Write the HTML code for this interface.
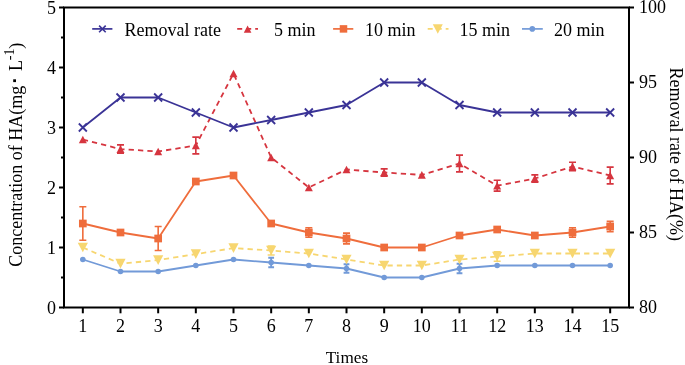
<!DOCTYPE html>
<html><head><meta charset="utf-8"><style>
html,body{margin:0;padding:0;background:#fff;}
svg{display:block;will-change:transform;}
</style></head><body>
<svg width="685" height="365" viewBox="0 0 685 365">
<rect width="685" height="365" fill="#fff"/>
<polyline points="82.83,259.50 120.50,271.50 158.17,271.50 195.83,265.50 233.50,259.50 271.17,262.50 308.83,265.50 346.50,268.50 384.17,277.50 421.83,277.50 459.50,268.50 497.17,265.50 534.83,265.50 572.50,265.50 610.17,265.50" fill="none" stroke="#729ad8" stroke-width="1.8" stroke-linejoin="round"/>
<path d="M271.17,257.70V267.30M268.27,257.70H274.07M268.27,267.30H274.07" stroke="#729ad8" stroke-width="1.9" fill="none"/>
<path d="M346.50,264.30V272.70M343.60,264.30H349.40M343.60,272.70H349.40" stroke="#729ad8" stroke-width="1.9" fill="none"/>
<path d="M459.50,263.70V273.30M456.60,263.70H462.40M456.60,273.30H462.40" stroke="#729ad8" stroke-width="1.9" fill="none"/>
<circle cx="82.83" cy="259.50" r="2.8" fill="#729ad8"/>
<circle cx="120.50" cy="271.50" r="2.8" fill="#729ad8"/>
<circle cx="158.17" cy="271.50" r="2.8" fill="#729ad8"/>
<circle cx="195.83" cy="265.50" r="2.8" fill="#729ad8"/>
<circle cx="233.50" cy="259.50" r="2.8" fill="#729ad8"/>
<circle cx="271.17" cy="262.50" r="2.8" fill="#729ad8"/>
<circle cx="308.83" cy="265.50" r="2.8" fill="#729ad8"/>
<circle cx="346.50" cy="268.50" r="2.8" fill="#729ad8"/>
<circle cx="384.17" cy="277.50" r="2.8" fill="#729ad8"/>
<circle cx="421.83" cy="277.50" r="2.8" fill="#729ad8"/>
<circle cx="459.50" cy="268.50" r="2.8" fill="#729ad8"/>
<circle cx="497.17" cy="265.50" r="2.8" fill="#729ad8"/>
<circle cx="534.83" cy="265.50" r="2.8" fill="#729ad8"/>
<circle cx="572.50" cy="265.50" r="2.8" fill="#729ad8"/>
<circle cx="610.17" cy="265.50" r="2.8" fill="#729ad8"/>
<polyline points="82.83,247.50 120.50,263.70 158.17,260.10 195.83,254.10 233.50,248.10 271.17,250.50 308.83,253.50 346.50,259.50 384.17,265.50 421.83,265.50 459.50,259.50 497.17,256.50 534.83,253.50 572.50,253.50 610.17,253.50" fill="none" stroke="#f7d670" stroke-width="1.8" stroke-dasharray="5.3 4.1" stroke-linejoin="round"/>
<path d="M271.17,246.00V255.00M267.67,246.00H274.67M267.67,255.00H274.67" stroke="#f7d670" stroke-width="1.6" fill="none"/>
<path d="M497.17,251.70V261.30M493.67,251.70H500.67M493.67,261.30H500.67" stroke="#f7d670" stroke-width="1.6" fill="none"/>
<path d="M82.83,252.34L87.93,242.66L77.73,242.66Z" fill="#f7d670"/>
<path d="M120.50,268.55L125.60,258.85L115.40,258.85Z" fill="#f7d670"/>
<path d="M158.17,264.95L163.27,255.26L153.07,255.26Z" fill="#f7d670"/>
<path d="M195.83,258.94L200.93,249.25L190.73,249.25Z" fill="#f7d670"/>
<path d="M233.50,252.94L238.60,243.25L228.40,243.25Z" fill="#f7d670"/>
<path d="M271.17,255.34L276.27,245.66L266.07,245.66Z" fill="#f7d670"/>
<path d="M308.83,258.35L313.93,248.66L303.73,248.66Z" fill="#f7d670"/>
<path d="M346.50,264.35L351.60,254.66L341.40,254.66Z" fill="#f7d670"/>
<path d="M384.17,270.35L389.27,260.65L379.07,260.65Z" fill="#f7d670"/>
<path d="M421.83,270.35L426.93,260.65L416.73,260.65Z" fill="#f7d670"/>
<path d="M459.50,264.35L464.60,254.66L454.40,254.66Z" fill="#f7d670"/>
<path d="M497.17,261.35L502.27,251.66L492.07,251.66Z" fill="#f7d670"/>
<path d="M534.83,258.35L539.93,248.66L529.73,248.66Z" fill="#f7d670"/>
<path d="M572.50,258.35L577.60,248.66L567.40,248.66Z" fill="#f7d670"/>
<path d="M610.17,258.35L615.27,248.66L605.07,248.66Z" fill="#f7d670"/>
<polyline points="82.83,223.50 120.50,232.50 158.17,238.50 195.83,181.50 233.50,175.50 271.17,223.50 308.83,232.50 346.50,238.50 384.17,247.50 421.83,247.50 459.50,235.50 497.17,229.50 534.83,235.50 572.50,232.50 610.17,226.50" fill="none" stroke="#ef6d3c" stroke-width="1.8" stroke-linejoin="round"/>
<path d="M82.83,206.70V240.30M79.33,206.70H86.33M79.33,240.30H86.33" stroke="#ef6d3c" stroke-width="1.6" fill="none"/>
<path d="M158.17,226.50V250.50M154.67,226.50H161.67M154.67,250.50H161.67" stroke="#ef6d3c" stroke-width="1.6" fill="none"/>
<path d="M308.83,227.70V237.30M305.33,227.70H312.33M305.33,237.30H312.33" stroke="#ef6d3c" stroke-width="1.6" fill="none"/>
<path d="M346.50,233.10V243.90M343.00,233.10H350.00M343.00,243.90H350.00" stroke="#ef6d3c" stroke-width="1.6" fill="none"/>
<path d="M572.50,227.70V237.30M569.00,227.70H576.00M569.00,237.30H576.00" stroke="#ef6d3c" stroke-width="1.6" fill="none"/>
<path d="M610.17,221.40V231.60M606.67,221.40H613.67M606.67,231.60H613.67" stroke="#ef6d3c" stroke-width="1.6" fill="none"/>
<rect x="78.98" y="219.65" width="7.7" height="7.7" fill="#ef6d3c"/>
<rect x="116.65" y="228.65" width="7.7" height="7.7" fill="#ef6d3c"/>
<rect x="154.32" y="234.65" width="7.7" height="7.7" fill="#ef6d3c"/>
<rect x="191.98" y="177.65" width="7.7" height="7.7" fill="#ef6d3c"/>
<rect x="229.65" y="171.65" width="7.7" height="7.7" fill="#ef6d3c"/>
<rect x="267.32" y="219.65" width="7.7" height="7.7" fill="#ef6d3c"/>
<rect x="304.98" y="228.65" width="7.7" height="7.7" fill="#ef6d3c"/>
<rect x="342.65" y="234.65" width="7.7" height="7.7" fill="#ef6d3c"/>
<rect x="380.32" y="243.65" width="7.7" height="7.7" fill="#ef6d3c"/>
<rect x="417.98" y="243.65" width="7.7" height="7.7" fill="#ef6d3c"/>
<rect x="455.65" y="231.65" width="7.7" height="7.7" fill="#ef6d3c"/>
<rect x="493.32" y="225.65" width="7.7" height="7.7" fill="#ef6d3c"/>
<rect x="530.98" y="231.65" width="7.7" height="7.7" fill="#ef6d3c"/>
<rect x="568.65" y="228.65" width="7.7" height="7.7" fill="#ef6d3c"/>
<rect x="606.32" y="222.65" width="7.7" height="7.7" fill="#ef6d3c"/>
<polyline points="82.83,139.50 120.50,149.10 158.17,151.50 195.83,145.50 233.50,73.50 271.17,157.50 308.83,187.50 346.50,169.50 384.17,172.50 421.83,174.90 459.50,163.50 497.17,185.70 534.83,178.50 572.50,166.50 610.17,175.50" fill="none" stroke="#d6353f" stroke-width="1.8" stroke-dasharray="5.3 4.1" stroke-linejoin="round"/>
<path d="M120.50,144.90V153.30M117.00,144.90H124.00M117.00,153.30H124.00" stroke="#d6353f" stroke-width="1.6" fill="none"/>
<path d="M195.83,137.10V153.90M192.33,137.10H199.33M192.33,153.90H199.33" stroke="#d6353f" stroke-width="1.6" fill="none"/>
<path d="M384.17,168.90V176.10M380.67,168.90H387.67M380.67,176.10H387.67" stroke="#d6353f" stroke-width="1.6" fill="none"/>
<path d="M459.50,155.10V171.90M456.00,155.10H463.00M456.00,171.90H463.00" stroke="#d6353f" stroke-width="1.6" fill="none"/>
<path d="M497.17,180.30V191.10M493.67,180.30H500.67M493.67,191.10H500.67" stroke="#d6353f" stroke-width="1.6" fill="none"/>
<path d="M534.83,174.90V182.10M531.33,174.90H538.33M531.33,182.10H538.33" stroke="#d6353f" stroke-width="1.6" fill="none"/>
<path d="M572.50,162.30V170.70M569.00,162.30H576.00M569.00,170.70H576.00" stroke="#d6353f" stroke-width="1.6" fill="none"/>
<path d="M610.17,167.10V183.90M606.67,167.10H613.67M606.67,183.90H613.67" stroke="#d6353f" stroke-width="1.6" fill="none"/>
<path d="M82.83,135.70L86.83,143.30L78.83,143.30Z" fill="#d6353f"/>
<path d="M120.50,145.30L124.50,152.90L116.50,152.90Z" fill="#d6353f"/>
<path d="M158.17,147.70L162.17,155.30L154.17,155.30Z" fill="#d6353f"/>
<path d="M195.83,141.70L199.83,149.30L191.83,149.30Z" fill="#d6353f"/>
<path d="M233.50,69.70L237.50,77.30L229.50,77.30Z" fill="#d6353f"/>
<path d="M271.17,153.70L275.17,161.30L267.17,161.30Z" fill="#d6353f"/>
<path d="M308.83,183.70L312.83,191.30L304.83,191.30Z" fill="#d6353f"/>
<path d="M346.50,165.70L350.50,173.30L342.50,173.30Z" fill="#d6353f"/>
<path d="M384.17,168.70L388.17,176.30L380.17,176.30Z" fill="#d6353f"/>
<path d="M421.83,171.10L425.83,178.70L417.83,178.70Z" fill="#d6353f"/>
<path d="M459.50,159.70L463.50,167.30L455.50,167.30Z" fill="#d6353f"/>
<path d="M497.17,181.90L501.17,189.50L493.17,189.50Z" fill="#d6353f"/>
<path d="M534.83,174.70L538.83,182.30L530.83,182.30Z" fill="#d6353f"/>
<path d="M572.50,162.70L576.50,170.30L568.50,170.30Z" fill="#d6353f"/>
<path d="M610.17,171.70L614.17,179.30L606.17,179.30Z" fill="#d6353f"/>
<polyline points="82.83,127.50 120.50,97.50 158.17,97.50 195.83,112.50 233.50,127.50 271.17,120.00 308.83,112.50 346.50,105.00 384.17,82.50 421.83,82.50 459.50,105.00 497.17,112.50 534.83,112.50 572.50,112.50 610.17,112.50" fill="none" stroke="#3a3396" stroke-width="1.8" stroke-linejoin="round"/>
<path d="M78.83,123.50L86.83,131.50M78.83,131.50L86.83,123.50" stroke="#3a3396" stroke-width="1.8" fill="none"/>
<path d="M116.50,93.50L124.50,101.50M116.50,101.50L124.50,93.50" stroke="#3a3396" stroke-width="1.8" fill="none"/>
<path d="M154.17,93.50L162.17,101.50M154.17,101.50L162.17,93.50" stroke="#3a3396" stroke-width="1.8" fill="none"/>
<path d="M191.83,108.50L199.83,116.50M191.83,116.50L199.83,108.50" stroke="#3a3396" stroke-width="1.8" fill="none"/>
<path d="M229.50,123.50L237.50,131.50M229.50,131.50L237.50,123.50" stroke="#3a3396" stroke-width="1.8" fill="none"/>
<path d="M267.17,116.00L275.17,124.00M267.17,124.00L275.17,116.00" stroke="#3a3396" stroke-width="1.8" fill="none"/>
<path d="M304.83,108.50L312.83,116.50M304.83,116.50L312.83,108.50" stroke="#3a3396" stroke-width="1.8" fill="none"/>
<path d="M342.50,101.00L350.50,109.00M342.50,109.00L350.50,101.00" stroke="#3a3396" stroke-width="1.8" fill="none"/>
<path d="M380.17,78.50L388.17,86.50M380.17,86.50L388.17,78.50" stroke="#3a3396" stroke-width="1.8" fill="none"/>
<path d="M417.83,78.50L425.83,86.50M417.83,86.50L425.83,78.50" stroke="#3a3396" stroke-width="1.8" fill="none"/>
<path d="M455.50,101.00L463.50,109.00M455.50,109.00L463.50,101.00" stroke="#3a3396" stroke-width="1.8" fill="none"/>
<path d="M493.17,108.50L501.17,116.50M493.17,116.50L501.17,108.50" stroke="#3a3396" stroke-width="1.8" fill="none"/>
<path d="M530.83,108.50L538.83,116.50M530.83,116.50L538.83,108.50" stroke="#3a3396" stroke-width="1.8" fill="none"/>
<path d="M568.50,108.50L576.50,116.50M568.50,116.50L576.50,108.50" stroke="#3a3396" stroke-width="1.8" fill="none"/>
<path d="M606.17,108.50L614.17,116.50M606.17,116.50L614.17,108.50" stroke="#3a3396" stroke-width="1.8" fill="none"/>
<path d="M64.0,7.5H629.0V307.5H64.0Z" stroke="#000" stroke-width="2" fill="none" stroke-linecap="square"/>
<path d="M59.0,307.5H64.0" stroke="#000" stroke-width="2" fill="none"/>
<text x="56" y="313.70" font-family="Liberation Serif" fill="#000" font-size="18" text-anchor="end">0</text>
<path d="M59.0,247.5H64.0" stroke="#000" stroke-width="2" fill="none"/>
<text x="56" y="253.70" font-family="Liberation Serif" fill="#000" font-size="18" text-anchor="end">1</text>
<path d="M59.0,187.5H64.0" stroke="#000" stroke-width="2" fill="none"/>
<text x="56" y="193.70" font-family="Liberation Serif" fill="#000" font-size="18" text-anchor="end">2</text>
<path d="M59.0,127.5H64.0" stroke="#000" stroke-width="2" fill="none"/>
<text x="56" y="133.70" font-family="Liberation Serif" fill="#000" font-size="18" text-anchor="end">3</text>
<path d="M59.0,67.5H64.0" stroke="#000" stroke-width="2" fill="none"/>
<text x="56" y="73.70" font-family="Liberation Serif" fill="#000" font-size="18" text-anchor="end">4</text>
<path d="M59.0,7.5H64.0" stroke="#000" stroke-width="2" fill="none"/>
<text x="56" y="13.70" font-family="Liberation Serif" fill="#000" font-size="18" text-anchor="end">5</text>
<path d="M61.0,277.5H64.0" stroke="#000" stroke-width="2" fill="none"/>
<path d="M61.0,217.5H64.0" stroke="#000" stroke-width="2" fill="none"/>
<path d="M61.0,157.5H64.0" stroke="#000" stroke-width="2" fill="none"/>
<path d="M61.0,97.5H64.0" stroke="#000" stroke-width="2" fill="none"/>
<path d="M61.0,37.5H64.0" stroke="#000" stroke-width="2" fill="none"/>
<path d="M629.0,307.5H634.0" stroke="#000" stroke-width="2" fill="none"/>
<text x="639" y="313.10" font-family="Liberation Serif" fill="#000" font-size="18">80</text>
<path d="M629.0,232.5H634.0" stroke="#000" stroke-width="2" fill="none"/>
<text x="639" y="238.10" font-family="Liberation Serif" fill="#000" font-size="18">85</text>
<path d="M629.0,157.5H634.0" stroke="#000" stroke-width="2" fill="none"/>
<text x="639" y="163.10" font-family="Liberation Serif" fill="#000" font-size="18">90</text>
<path d="M629.0,82.5H634.0" stroke="#000" stroke-width="2" fill="none"/>
<text x="639" y="88.10" font-family="Liberation Serif" fill="#000" font-size="18">95</text>
<path d="M629.0,7.5H634.0" stroke="#000" stroke-width="2" fill="none"/>
<text x="639" y="13.10" font-family="Liberation Serif" fill="#000" font-size="18">100</text>
<path d="M82.83,307.5V313.3" stroke="#000" stroke-width="2" fill="none"/>
<text x="82.83" y="331.5" font-family="Liberation Serif" fill="#000" font-size="18" text-anchor="middle">1</text>
<path d="M120.50,307.5V313.3" stroke="#000" stroke-width="2" fill="none"/>
<text x="120.50" y="331.5" font-family="Liberation Serif" fill="#000" font-size="18" text-anchor="middle">2</text>
<path d="M158.17,307.5V313.3" stroke="#000" stroke-width="2" fill="none"/>
<text x="158.17" y="331.5" font-family="Liberation Serif" fill="#000" font-size="18" text-anchor="middle">3</text>
<path d="M195.83,307.5V313.3" stroke="#000" stroke-width="2" fill="none"/>
<text x="195.83" y="331.5" font-family="Liberation Serif" fill="#000" font-size="18" text-anchor="middle">4</text>
<path d="M233.50,307.5V313.3" stroke="#000" stroke-width="2" fill="none"/>
<text x="233.50" y="331.5" font-family="Liberation Serif" fill="#000" font-size="18" text-anchor="middle">5</text>
<path d="M271.17,307.5V313.3" stroke="#000" stroke-width="2" fill="none"/>
<text x="271.17" y="331.5" font-family="Liberation Serif" fill="#000" font-size="18" text-anchor="middle">6</text>
<path d="M308.83,307.5V313.3" stroke="#000" stroke-width="2" fill="none"/>
<text x="308.83" y="331.5" font-family="Liberation Serif" fill="#000" font-size="18" text-anchor="middle">7</text>
<path d="M346.50,307.5V313.3" stroke="#000" stroke-width="2" fill="none"/>
<text x="346.50" y="331.5" font-family="Liberation Serif" fill="#000" font-size="18" text-anchor="middle">8</text>
<path d="M384.17,307.5V313.3" stroke="#000" stroke-width="2" fill="none"/>
<text x="384.17" y="331.5" font-family="Liberation Serif" fill="#000" font-size="18" text-anchor="middle">9</text>
<path d="M421.83,307.5V313.3" stroke="#000" stroke-width="2" fill="none"/>
<text x="421.83" y="331.5" font-family="Liberation Serif" fill="#000" font-size="18" text-anchor="middle">10</text>
<path d="M459.50,307.5V313.3" stroke="#000" stroke-width="2" fill="none"/>
<text x="459.50" y="331.5" font-family="Liberation Serif" fill="#000" font-size="18" text-anchor="middle">11</text>
<path d="M497.17,307.5V313.3" stroke="#000" stroke-width="2" fill="none"/>
<text x="497.17" y="331.5" font-family="Liberation Serif" fill="#000" font-size="18" text-anchor="middle">12</text>
<path d="M534.83,307.5V313.3" stroke="#000" stroke-width="2" fill="none"/>
<text x="534.83" y="331.5" font-family="Liberation Serif" fill="#000" font-size="18" text-anchor="middle">13</text>
<path d="M572.50,307.5V313.3" stroke="#000" stroke-width="2" fill="none"/>
<text x="572.50" y="331.5" font-family="Liberation Serif" fill="#000" font-size="18" text-anchor="middle">14</text>
<path d="M610.17,307.5V313.3" stroke="#000" stroke-width="2" fill="none"/>
<text x="610.17" y="331.5" font-family="Liberation Serif" fill="#000" font-size="18" text-anchor="middle">15</text>
<text x="346.9" y="363.3" font-family="Liberation Serif" fill="#000" font-size="17.2" text-anchor="middle">Times</text>
<text transform="translate(22,266.7) rotate(-90)" font-family="Liberation Serif" fill="#000" font-size="18"><tspan x="0" y="0">Concentration of HA(mg</tspan><tspan x="195.7" y="0">L</tspan><tspan x="206.5" y="-8" font-size="14">-1</tspan><tspan x="218" y="0">)</tspan></text>
<rect x="13.2" y="79.3" width="2.8" height="2.8" fill="#000"/>
<text transform="translate(669.5,154.3) rotate(90)" font-family="Liberation Serif" fill="#000" font-size="18" text-anchor="middle">Removal rate of HA(%)</text>
<path d="M92.2,28.9H112.4" stroke="#3a3396" stroke-width="1.7"/>
<path d="M99.10,25.60L105.70,32.20M99.10,32.20L105.70,25.60" stroke="#3a3396" stroke-width="1.6" fill="none"/>
<text x="124.5" y="35.8" font-family="Liberation Serif" fill="#000" font-size="18">Removal rate</text>
<path d="M237.2,28.9H258" stroke="#d6353f" stroke-width="1.7" stroke-dasharray="5 4"/>
<path d="M247.60,25.59L251.40,32.81L243.80,32.81Z" fill="#d6353f"/>
<text x="274" y="35.8" font-family="Liberation Serif" fill="#000" font-size="18">5 min</text>
<path d="M333.1,28.9H353.3" stroke="#ef6d3c" stroke-width="1.7"/>
<rect x="339.75" y="25.15" width="7.5" height="7.5" fill="#ef6d3c"/>
<text x="365" y="35.8" font-family="Liberation Serif" fill="#000" font-size="18">10 min</text>
<path d="M427.7,28.9H448.5" stroke="#f7d670" stroke-width="1.7" stroke-dasharray="5 4"/>
<path d="M437.80,33.65L442.80,24.15L432.80,24.15Z" fill="#f7d670"/>
<text x="459.5" y="35.8" font-family="Liberation Serif" fill="#000" font-size="18">15 min</text>
<path d="M522,28.9H542.8" stroke="#729ad8" stroke-width="1.7"/>
<circle cx="532.30" cy="28.90" r="2.8" fill="#729ad8"/>
<text x="554" y="35.8" font-family="Liberation Serif" fill="#000" font-size="18">20 min</text>
</svg>
</body></html>
